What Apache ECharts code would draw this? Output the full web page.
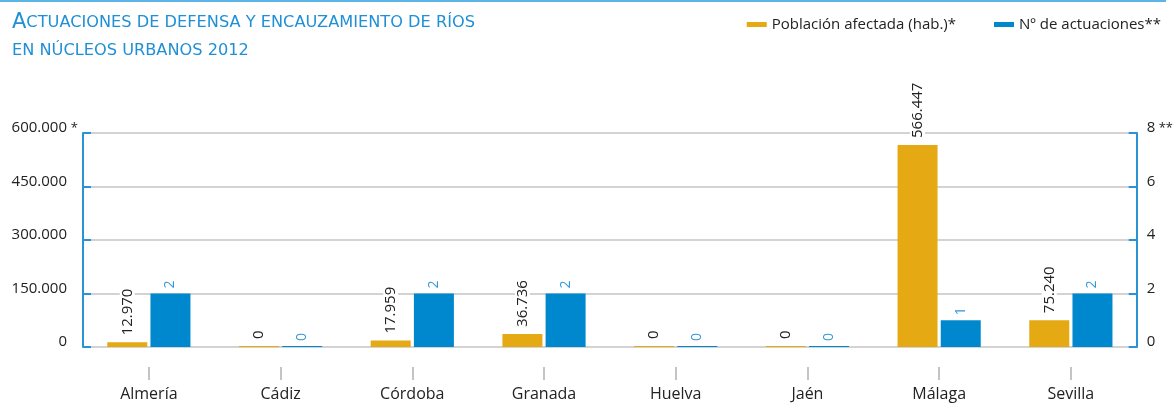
<!DOCTYPE html>
<html>
<head>
<meta charset="utf-8">
<script src="https://cdn.jsdelivr.net/npm/echarts@6/dist/echarts.min.js"></script>
<style>
  html, body { margin: 0; padding: 0; background: #fff; }
  #chart { width: 1176px; height: 403px; }
</style>
</head>
<body>
<div id="chart"></div>
<script>
var provincias = ['Almería', 'Cádiz', 'Córdoba', 'Granada', 'Huelva', 'Jaén', 'Málaga', 'Sevilla'];
var poblacion = [12970, 0, 17959, 36736, 0, 0, 566447, 75240];
var actuaciones = [2, 0, 2, 2, 0, 0, 1, 2];
var nombrePoblacion = 'Población afectada (hab.)*';
var nombreActuaciones = 'Nº de actuaciones**';
var tituloLinea1 = 'Actuaciones de defensa y encauzamiento de ríos';
var tituloLinea2 = 'en núcleos urbanos 2012';

var FONT = 'Open Sans';
var TFONT = 'DejaVu Sans';
var NARANJA = '#e5a914';
var AZUL = '#0088cf';

function miles(v){
	return String(v).replace(/\B(?=(\d{3})+(?!\d))/g, '.');
}

var chart = echarts.init(document.getElementById('chart'));

var option = {
	animation: false,
	textStyle: { fontFamily: FONT },
	title: {
		left: 7,
		top: 4,
		text: '{big|' + tituloLinea1.charAt(0).toUpperCase() + '}{sc|' + tituloLinea1.slice(1).toUpperCase() + '}\n{sc|' + tituloLinea2.toUpperCase() + '}',
		textStyle: {
			fontWeight: 'normal',
			rich: {
				big: { fontFamily: TFONT, fontSize: 21, fontWeight: 'normal', color: '#1f8fd6', lineHeight: 28 },
				sc: { fontFamily: TFONT, fontSize: 16.2, fontWeight: 'normal', color: '#1f8fd6', lineHeight: 28 }
			}
		}
	},
	graphic: [{
		type: 'line',
		shape: { x1: 0, y1: 1, x2: 1166, y2: 1 },
		style: { stroke: '#5cb5e6', lineWidth: 2 }
	}],
	legend: {
		right: 10,
		top: 12,
		icon: 'rect',
		itemWidth: 20,
		itemHeight: 5,
		itemGap: 38,
		textStyle: { fontFamily: FONT, fontSize: 15, color: '#222' },
		data: [nombrePoblacion, nombreActuaciones]
	},
	grid: { left: 83, right: 34, top: 133, bottom: 56, containLabel: false },
	xAxis: {
		type: 'category',
		data: provincias,
		axisLine: { show: false },
		// marca separada del eje: hueco de 20px y trazo de 13px
		axisTick: { show: true, alignWithLabel: true, length: 33, lineStyle: { color: '#c4c4c4', width: 2, type: [13, 20], dashOffset: 13 } },
		axisLabel: { margin: 39, fontSize: 16, color: '#222', fontFamily: FONT }
	},
	yAxis: [{
		type: 'value',
		min: 0,
		max: 600000,
		interval: 150000,
		axisLine: { show: true, lineStyle: { color: '#2a93d6', width: 2 } },
		axisTick: { show: true, inside: true, length: 8, lineStyle: { color: '#2a93d6', width: 2 } },
		splitLine: { show: true, lineStyle: { color: '#c4c4c4', width: 1.5 } },
		axisLabel: {
			margin: 5,
			color: '#222',
			fontSize: 15,
			fontFamily: FONT,
			padding: [0, 0, 10, 0],
			formatter: function(v){
				return '{v|' + miles(v) + '}{s|' + (v === 600000 ? '*' : '') + '}';
			},
			rich: {
				v: { fontSize: 15, color: '#222', fontFamily: FONT },
				s: { fontSize: 13, color: '#222', fontFamily: FONT, width: 11, align: 'right' }
			}
		}
	}, {
		type: 'value',
		min: 0,
		max: 8,
		interval: 2,
		axisLine: { show: true, lineStyle: { color: '#2a93d6', width: 2 } },
		axisTick: { show: true, inside: true, length: 8, lineStyle: { color: '#2a93d6', width: 2 } },
		splitLine: { show: false },
		axisLabel: {
			margin: 10,
			color: '#222',
			fontSize: 15,
			fontFamily: FONT,
			padding: [0, 0, 10, 0],
			formatter: function(v){
				return v === 8 ? '{v|8}{s| **}' : '{v|' + v + '}';
			},
			rich: {
				v: { fontSize: 15, color: '#222', fontFamily: FONT },
				s: { fontSize: 13, color: '#222', fontFamily: FONT }
			}
		}
	}],
	series: [{
		name: nombrePoblacion,
		type: 'bar',
		yAxisIndex: 0,
		data: poblacion,
		barWidth: 40,
		barGap: '8%',
		barMinHeight: 1,
		itemStyle: { color: NARANJA },
		label: {
			show: true,
			position: 'top',
			rotate: 90,
			align: 'left',
			verticalAlign: 'middle',
			distance: 4,
			fontSize: 15,
			fontFamily: FONT,
			color: '#222',
			backgroundColor: '#fff',
			padding: [0, 3],
			formatter: function(p){ return miles(p.value); }
		}
	}, {
		name: nombreActuaciones,
		type: 'bar',
		yAxisIndex: 1,
		data: actuaciones,
		barWidth: 40,
		barMinHeight: 1,
		itemStyle: { color: AZUL },
		label: {
			show: true,
			position: 'top',
			rotate: 90,
			align: 'left',
			verticalAlign: 'middle',
			distance: 5,
			fontSize: 14,
			fontFamily: FONT,
			color: '#3597d8'
		}
	}]
};

chart.setOption(option);
</script>
</body>
</html>
